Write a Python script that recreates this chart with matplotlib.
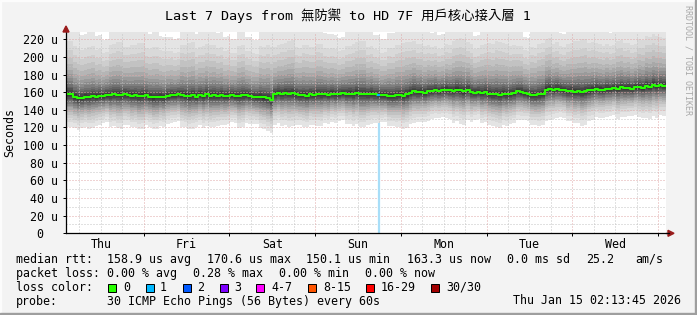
import numpy as np
import matplotlib
matplotlib.use("Agg")
import matplotlib.pyplot as plt
from matplotlib.patches import Rectangle, Polygon
from matplotlib.lines import Line2D

W, H = 697, 315

# ---------------- data ----------------
title = "Last 7 Days from 無防禦 to HD 7F 用戶核心接入層 1"
day_labels = ["Thu", "Fri", "Sat", "Sun", "Mon", "Tue", "Wed"]
span_hours = 168
first_midnight = 21.77          # hours after the left edge (Jan 8 02:13:45)

# hourly median rtt (microseconds)
median_rtt = [
    158, 158, 155, 153, 153.5, 155, 154.5, 155.5, 155, 156,
    155.5, 157, 156.5, 157.5, 157, 156.5, 157.5, 157, 156, 156.5,
    155.5, 156, 156.5, 155, 154, 154.5, 155, 154, 156, 157,
    156.5, 157.5, 157, 156, 155.5, 156.5, 155, 157, 155.5, 157.5,
    156, 156.5, 156, 157, 155.5, 156, 156.5, 156, 155.5, 156.5,
    157, 156, 155, 154.5, 155, 154, 153.5, 151, 157.5, 159,
    158, 159, 158.5, 159, 157.5, 156.5, 157, 156, 157.5, 157,
    158, 157.5, 158, 157, 158.5, 157.5, 158, 159, 158, 158.5,
    157.5, 159.5, 158, 158, 157.5, 158.5, 157.5, 157, 156.5, 157,
    156, 155.5, 156.5, 157, 156, 157.5, 159.5, 161, 160, 160.5,
    159.5, 161, 161.5, 162.5, 161, 162, 163, 162, 161.5, 163,
    162, 161, 162.5, 160, 159.5, 160.5, 159, 160, 158.5, 157.5,
    158, 157, 158.5, 157.5, 158, 159, 161, 160.5, 159, 158,
    157, 156.5, 157.5, 158.5, 163, 164, 162.5, 164, 163, 162,
    161, 161.5, 160.5, 161, 160, 161, 162, 163, 164, 163,
    162.5, 164, 163.5, 165, 164, 165.5, 164.5, 165, 164, 165.5,
    166, 165, 167, 166, 168.5, 167, 168, 167.5,
]

# two-hourly spread of the smoke (relative)
smoke_spread = [
    1.05, 1.0, 0.95, 1.0, 0.92, 0.85, 1.0, 1.05, 0.95, 1.0,
    1.05, 0.95, 1.0, 0.92, 0.88, 0.85, 1.0, 1.05, 0.95, 1.0,
    1.0, 0.95, 0.9, 0.85, 1.0, 0.88, 0.86, 1.0, 1.05, 0.95,
    1.0, 1.05, 0.95, 1.0, 0.95, 1.0, 0.92, 0.9, 0.85, 0.95,
    1.0, 1.05, 0.95, 0.9, 0.85, 0.95, 1.0, 1.05, 1.0, 0.95,
    0.92, 0.88, 0.85, 0.9, 1.0, 1.05, 0.95, 0.86, 0.95, 1.0,
    1.05, 1.0, 0.95, 0.9, 0.85, 0.95, 1.0, 1.0, 0.92, 0.86,
    0.95, 1.0, 1.05, 0.95, 0.9, 0.88, 0.85, 0.95, 0.9, 0.86,
    0.95, 1.0, 1.0, 0.95,
]

# typical sorted ping offsets from the median (30 pings, microseconds)
ping_offsets = [-36, -30, -26, -22.5, -19.5, -17, -14.5, -12.5, -10.5, -8.5,
                -6.8, -5.2, -3.8, -2.4, -1.2,
                1.2, 2.6, 4.2, 6, 8, 10.5, 13.5, 17, 21, 26,
                32, 39, 47, 57, 75]

loss_hours = [87]
loss_counts = [1]
loss_line_hour = [87.6]

loss_labels = ["0", "1", "2", "3", "4-7", "8-15", "16-29", "30/30"]
loss_swatch = ["#26ff00", "#00b8ff", "#0059ff", "#7e00ff",
               "#ff00ff", "#ff5500", "#ff0000", "#a10000"]

y_ticks = [0, 20, 40, 60, 80, 100, 120, 140, 160, 180, 200, 220]
y_top = 228

# ---------------- style ----------------
band_greys = ['#e4e4e4', '#d9d9d9', '#cecece', '#c2c2c2', '#b5b5b5',
              '#a8a8a8', '#9a9a9a', '#8c8c8c', '#7e7e7e', '#707070',
              '#626262', '#545454', '#474747', '#3b3b3b', '#303030']
MONO = 'DejaVu Sans Mono'
FS = 8.4

fig = plt.figure(figsize=(W / 100, H / 100), dpi=100)
fig.patch.set_facecolor('#f3f3f3')

ax_l, ax_r, ax_t, ax_b = 66, 666, 32.2, 233.3
ax = fig.add_axes([ax_l / W, (H - ax_b) / H, (ax_r - ax_l) / W, (ax_b - ax_t) / H])
ax.set_facecolor('white')
ax.set_xlim(0, span_hours)
ax.set_ylim(0, y_top)

# smoke
med = np.array(median_rtt, dtype=float)
sp = np.repeat(np.array(smoke_spread), 2)
offs = np.array(ping_offsets, dtype=float)
pings = med[:, None] + offs[None, :] * sp[:, None]
t_edges = np.arange(len(med) + 1)
n = len(ping_offsets)
for k in range(n // 2):
    lo = pings[:, k]
    hi = pings[:, n - 1 - k]
    ax.fill_between(t_edges, np.append(lo, lo[-1]), np.append(hi, hi[-1]),
                    step='post', color=band_greys[k], lw=0, zorder=2)

# grid
dots = (0, (1, 2))
for v in range(10, y_top, 20):
    ax.axhline(v, color='#c4c4c4', lw=0.72, ls=dots, zorder=3)
for v in y_ticks[1:]:
    ax.axhline(v, color='#e0a8a8', lw=0.72, ls=dots, zorder=3)
midnights = [first_midnight + 24 * k for k in range(7)]
six = np.arange(first_midnight - 18, span_hours, 6)
for h in six:
    if min(abs(h - m) for m in midnights) > 0.1:
        ax.axvline(h, color='#c4c4c4', lw=0.72, ls=dots, zorder=3)
for m in midnights:
    ax.axvline(m, color='#e0a8a8', lw=0.72, ls=dots, zorder=3)

# loss line
for h, c in zip(loss_line_hour, loss_counts):
    lo_edge = pings[int(h), 0]
    ax.plot([h, h], [0, lo_edge], color='#a8def8', lw=1.6, zorder=3.5,
            solid_capstyle='butt')

# median
ax.step(t_edges, np.append(med, med[-1]), where='post', color=loss_swatch[0],
        lw=1.5, zorder=4)
for h, c in zip(loss_hours, loss_counts):
    ax.plot([h, h + 1], [med[h], med[h]], color=loss_swatch[c], lw=1.5,
            zorder=4.5, solid_capstyle='butt')

# axes
for s in ['top', 'right']:
    ax.spines[s].set_visible(False)
for s in ['left', 'bottom']:
    ax.spines[s].set_color('black')
    ax.spines[s].set_linewidth(0.9)
    ax.spines[s].set_zorder(5)

ax.set_yticks(y_ticks)
ax.set_yticklabels([f"{v} u" if v else "0  " for v in y_ticks],
                   fontfamily=MONO, fontsize=FS)
ax.tick_params(axis='y', length=2.5, width=0.72, pad=3, color='black')
ax.set_xticks(midnights)
ax.set_xticklabels([])
ax.tick_params(axis='x', which='major', length=2.5, width=0.72, color='black')
noons = [first_midnight - 12 + 24 * k for k in range(7)]
ax.set_xticks(noons, minor=True)
ax.set_xticklabels(day_labels, minor=True, fontfamily=MONO, fontsize=FS)
ax.tick_params(axis='x', which='minor', length=0, pad=3.5)

# axis arrows and bottom axis extension
def fx(x):
    return x / W
def fy(y):
    return 1 - y / H

fig.add_artist(Line2D([fx(ax_r), fx(669)], [fy(ax_b), fy(ax_b)], color='black',
                      lw=0.9, transform=fig.transFigure))
fig.add_artist(Polygon([[fx(668), fy(ax_b - 3)], [fx(668), fy(ax_b + 3)],
                        [fx(674), fy(ax_b)]], closed=True, color='#9a1c1c',
                       transform=fig.transFigure))
fig.add_artist(Polygon([[fx(ax_l - 3), fy(32)], [fx(ax_l + 3), fy(32)],
                        [fx(ax_l), fy(26)]], closed=True, color='#9a1c1c',
                       transform=fig.transFigure))

# texts
fig.text(fx(348), fy(16), title, ha='center', va='center', fontsize=9.6,
         family=[MONO, 'Noto Sans CJK TC'])
fig.text(fx(10), fy(132), 'Seconds', rotation=90, ha='center', va='center',
         fontsize=FS, family=MONO)
fig.text(fx(688), fy(60), 'RRDTOOL / TOBI OETIKER', rotation=270, ha='center',
         va='center', fontsize=6, family=MONO, color='#a8a8a8')

def t(x, y, s):
    fig.text(fx(x), fy(y), s, ha='left', va='center', fontsize=FS, family=MONO)

y1, y2, y3, y4 = 259.5, 273.5, 287.5, 301
t(16, y1, "median rtt:")
t(107, y1, "158.9 us avg")
t(207, y1, "170.6 us max")
t(306, y1, "150.1 us min")
t(407, y1, "163.3 us now")
t(507, y1, "0.0 ms sd")
t(586, y1, "25.2")
t(635, y1, "am/s")
t(16, y2, "packet loss:")
t(107, y2, "0.00 % avg")
t(193, y2, "0.28 % max")
t(279, y2, "0.00 % min")
t(365, y2, "0.00 % now")
t(16, y3, "loss color:")
box_x = [112, 149.5, 186.5, 223.5, 260, 311.5, 369.5, 435]
lab_x = [123, 160, 197, 234, 271, 323, 381, 446]
for bx, lx, lab, col in zip(box_x, lab_x, loss_labels, loss_swatch):
    fig.add_artist(Rectangle((fx(bx - 4), fy(y3 + 4)), 8 / W, 8 / H,
                             facecolor=col, edgecolor='black', lw=0.72,
                             transform=fig.transFigure))
    t(lx, y3, lab)
t(16, y4, "probe:")
t(107, y4, "30 ICMP Echo Pings (56 Bytes) every 60s")
t(513, y4, "Thu Jan 15 02:13:45 2026")

# 3D frame
fig.add_artist(Rectangle((0, 1 - 1 / H), 1, 1 / H, color='#fcfcfc', transform=fig.transFigure))
fig.add_artist(Rectangle((0, 0), 1 / W, 1, color='#fcfcfc', transform=fig.transFigure))
fig.add_artist(Rectangle((1 - 2 / W, 0), 2 / W, 1, color='#9e9e9e', transform=fig.transFigure))
fig.add_artist(Rectangle((0, 0), 1, 2 / H, color='#9e9e9e', transform=fig.transFigure))

fig.savefig('out.png', dpi=100, facecolor=fig.get_facecolor())
